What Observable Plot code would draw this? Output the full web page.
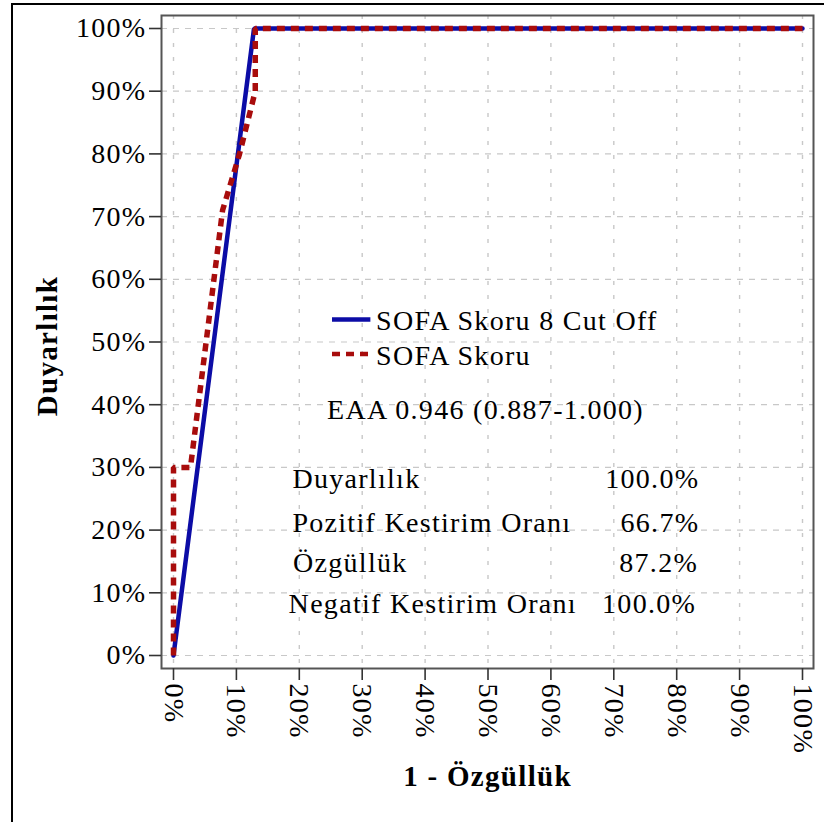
<!DOCTYPE html>
<html><head><meta charset="utf-8">
<script src="https://cdn.jsdelivr.net/npm/d3@7"></script>
<script src="https://cdn.jsdelivr.net/npm/@observablehq/plot@0.6"></script>
<style>
html,body{margin:0;padding:0;background:#fff;overflow:hidden;width:824px;height:822px}
#wrap{position:relative;width:824px;height:822px}
#border{position:absolute;left:11px;top:3px;width:900px;height:900px;border:2px solid #000;}
#chart{position:absolute;left:0;top:0}
#chart svg, #chart svg text{font-family:"Liberation Serif", "Times New Roman", serif !important; letter-spacing:1.3px}
</style></head><body>
<div id="wrap"><div id="border"></div><div id="chart"></div></div>
<script>
// ---- data ----
const tickValues = [0, 0.1, 0.2, 0.3, 0.4, 0.5, 0.6, 0.7, 0.8, 0.9, 1.0];
const cutoffFpr = [0, 0.128, 1];
const cutoffTpr = [0, 1, 1];
const scoreFpr = [0, 0, 0.027, 0.078, 0.105, 0.13, 0.13, 1];
const scoreTpr = [0, 0.30, 0.30, 0.71, 0.80, 0.90, 1, 1];
const seriesNames = ["SOFA Skoru 8 Cut Off", "SOFA Skoru"];
const aucText = "EAA 0.946 (0.887-1.000)";
const statLabels = ["Duyarlılık", "Pozitif Kestirim Oranı", "Özgüllük", "Negatif Kestirim Oranı"];
const statValues = ["100.0%", "66.7%", "87.2%", "100.0%"];
const xTitle = "1 - Özgüllük";
const yTitle = "Duyarlılık";

// ---- build tables ----
const cutoff = cutoffFpr.map((x, i) => ({x, y: cutoffTpr[i]}));
const score = scoreFpr.map((x, i) => ({x, y: scoreTpr[i]}));
const blue = "#0c0ca6", red = "#a80c0c";
const legendY = [0.536, 0.481];
const legend = seriesNames.map((name, i) => ({name, y: legendY[i]}));
const rowY = [0.281, 0.212, 0.147, 0.082];
const rowX = [0.189, 0.189, 0.190, 0.183];
const valX = [0.836, 0.836, 0.834, 0.831];
const stats = statLabels.map((label, i) => ({label, value: statValues[i], y: rowY[i], lx: rowX[i], vx: valX[i]}));
const fmt = d3.format(".0%");
const FONT = 28;

const chart = Plot.plot({
  width: 824, height: 822,
  marginLeft: 161, marginRight: 11, marginTop: 15, marginBottom: 154,
  x: {domain: [0, 1], insetLeft: 12, insetRight: 11},
  y: {domain: [0, 1], insetTop: 13, insetBottom: 13},
  style: {fontFamily: "Liberation Serif", fontSize: FONT + "px", background: "transparent", color: "#000"},
  marks: [
    Plot.ruleY(tickValues, {y: d => d, stroke: "#c8c8c8", strokeWidth: 1.2, strokeDasharray: "6,6"}),
    Plot.ruleX(tickValues, {x: d => d, stroke: "#c8c8c8", strokeWidth: 1.4, strokeDasharray: "4,10"}),
    Plot.frame({stroke: "#555", strokeWidth: 2}),
    Plot.axisY({ticks: tickValues, tickFormat: fmt, tickSize: 12, tickPadding: 3, fontSize: FONT, label: null, stroke: "#333", strokeWidth: 1.6}),
    Plot.axisX({ticks: tickValues, tickFormat: fmt, tickSize: 12, tickPadding: 3, tickRotate: 90, fontSize: FONT, label: null, stroke: "#333", strokeWidth: 1.6}),
    Plot.line(cutoff, {x: "x", y: "y", stroke: blue, strokeWidth: 4.5, strokeLinejoin: "miter"}),
    Plot.line(score, {x: "x", y: "y", stroke: red, strokeWidth: 5.5, strokeDasharray: "8,6", strokeLinecap: "butt", strokeLinejoin: "miter"}),
    Plot.link(legend.slice(0, 1), {x1: 0.252, x2: 0.313, y1: "y", y2: "y", stroke: blue, strokeWidth: 4.5}),
    Plot.link(legend.slice(1), {x1: 0.252, x2: 0.313, y1: "y", y2: "y", stroke: red, strokeWidth: 4.5, strokeDasharray: "8,6", strokeLinecap: "butt"}),
    Plot.text(legend, {x: 0.322, y: "y", text: "name", textAnchor: "start", fontSize: FONT, dy: 2}),
    Plot.text([aucText], {x: 0.496, y: 0.391, text: d => d, textAnchor: "middle", fontSize: FONT}),
    Plot.text(stats, {x: "lx", y: "y", text: "label", textAnchor: "start", fontSize: FONT}),
    Plot.text(stats, {x: "vx", y: "y", text: "value", textAnchor: "end", fontSize: FONT}),
    Plot.text([yTitle], {frameAnchor: "left", dx: -114, dy: 4, rotate: -90, text: d => d, textAnchor: "middle", fontWeight: "bold", fontSize: 29}),
    Plot.text([xTitle], {frameAnchor: "bottom", dy: 117, text: d => d, textAnchor: "middle", fontWeight: "bold", fontSize: 29})
  ]
});
document.getElementById("chart").appendChild(chart);
</script>
</body></html>
